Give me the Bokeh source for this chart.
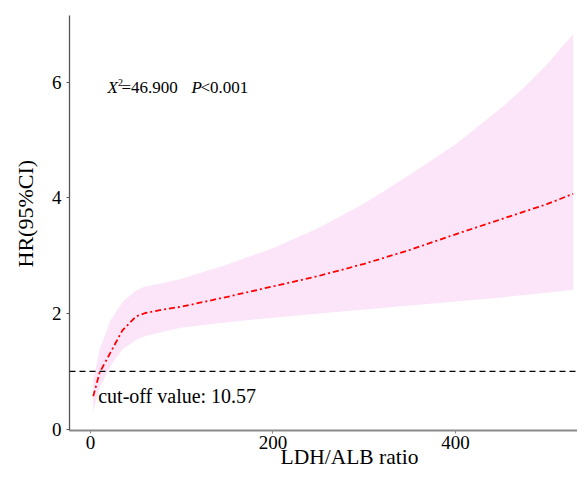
import numpy as np
from bokeh.plotting import figure
from bokeh.models import ColumnDataSource, Span, Label, Range1d, FixedTicker, Title
from bokeh.embed import file_html
from bokeh.resources import INLINE

# ---- data ----
ratio = [3, 10, 22, 35, 50, 60, 80, 100, 150, 200, 250, 300, 350, 400, 450, 475, 500, 529]
hr    = [0.57, 0.98, 1.33, 1.71, 1.95, 2.01, 2.07, 2.12, 2.29, 2.47, 2.65, 2.86, 3.10, 3.37, 3.63, 3.76, 3.89, 4.07]
upper = [0.85, 1.38, 1.88, 2.20, 2.40, 2.47, 2.53, 2.60, 2.85, 3.13, 3.48, 3.90, 4.40, 4.92, 5.55, 5.90, 6.30, 6.83]
lower = [0.31, 0.72, 1.10, 1.38, 1.55, 1.61, 1.69, 1.76, 1.85, 1.93, 2.00, 2.07, 2.14, 2.21, 2.28, 2.32, 2.36, 2.41]
reference_hr = 1.0
x_ticks = [0, 200, 400]
y_ticks = [0, 2, 4, 6]
stat_text = ["X", "2", "=46.900", "P", "<0.001"]
cutoff_text = "cut-off value: 10.57"
x_label = "LDH/ALB ratio"
y_label = "HR(95%CI)"

FONT = "Liberation Serif"

src = ColumnDataSource(dict(x=ratio, hr=hr, up=upper, lo=lower))

p = figure(width=577, height=469, output_backend="svg", toolbar_location=None,
           x_range=Range1d(-23, 533.7), y_range=Range1d(-0.02, 7.15),
           min_border_left=69, min_border_right=0, min_border_top=15, min_border_bottom=39)
p.outline_line_color = None
p.xgrid.visible = False
p.ygrid.visible = False
p.background_fill_color = "white"

p.varea(x="x", y1="lo", y2="up", source=src, fill_color="#FCE4F9", fill_alpha=1.0)
p.line(x="x", y="hr", source=src, line_color="#FF0000", line_width=1.8, line_dash="6 3 2 3")

p.add_layout(Span(location=reference_hr, dimension="width", line_color="black",
                  line_width=1.3, line_dash="6 4"))

# axes
p.xaxis.ticker = FixedTicker(ticks=x_ticks)
p.yaxis.ticker = FixedTicker(ticks=y_ticks)
for ax in (p.xaxis[0], p.yaxis[0]):
    ax.major_label_text_font = FONT
    ax.major_label_text_font_size = "19px"
    ax.major_label_text_color = "black"
    ax.minor_tick_line_color = None
    ax.major_tick_in = 0
    ax.major_tick_out = 3
    ax.axis_label = None
p.xaxis.axis_line_color = "#8a8a8a"
p.xaxis.axis_line_width = 2
p.xaxis.major_tick_line_color = "#8a8a8a"
p.xaxis.major_label_standoff = 2
p.yaxis.axis_line_color = "#555555"
p.yaxis.axis_line_width = 1.3
p.yaxis.major_tick_line_color = "#555555"
p.yaxis.major_label_standoff = 5

# axis labels as side titles (offset from the frame start, like the reference)
p.add_layout(Title(text=x_label, align="left", offset=211, standoff=-18,
                   text_font=FONT, text_font_size="21.5px", text_font_style="normal",
                   text_color="black"), "below")
p.add_layout(Title(text=y_label, align="left", offset=163, standoff=21,
                   text_font=FONT, text_font_size="22px", text_font_style="normal",
                   text_color="black"), "left")

# statistic annotation (screen units relative to the plot frame)
base = 342.7
parts = [
    (38, base, stat_text[0], "italic", "17px"),
    (48.5, base + 5.6, stat_text[1], "normal", "10px"),
    (52, base, stat_text[2], "normal", "17px"),
    (122, base, stat_text[3], "italic", "17px"),
    (131, base, stat_text[4], "normal", "17px"),
]
for x, y, t, style, size in parts:
    p.add_layout(Label(x=x, y=y, x_units="screen", y_units="screen", text=t,
                       text_font=FONT, text_font_style=style, text_font_size=size,
                       text_baseline="alphabetic", text_align="left", text_color="black"))

p.add_layout(Label(x=28.7, y=35, x_units="screen", y_units="screen", text=cutoff_text,
                   text_font=FONT, text_font_size="20px", text_baseline="alphabetic",
                   text_align="left", text_color="black"))

open("out.html", "w").write(file_html(p, INLINE))
